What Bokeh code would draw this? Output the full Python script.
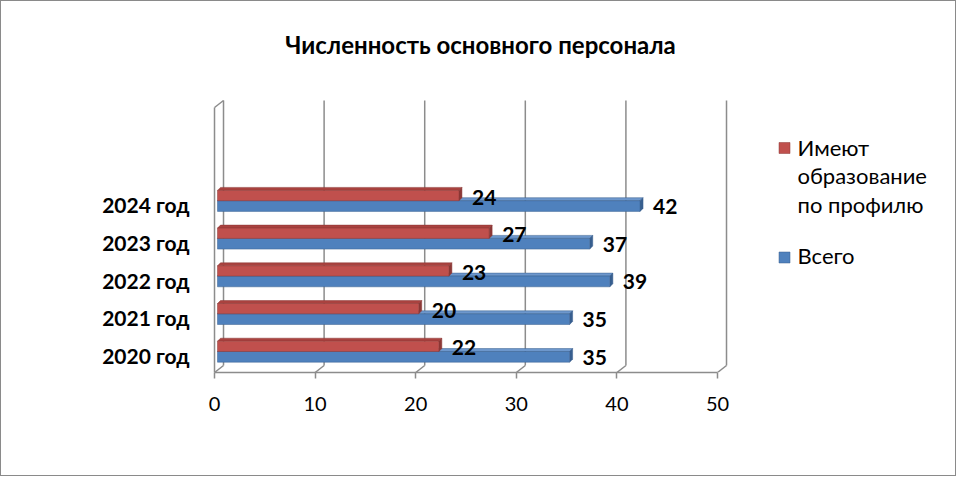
from bokeh.plotting import figure
from bokeh.models import FixedTicker, Range1d
from bokeh.core.properties import value
from bokeh.embed import file_html
from bokeh.resources import INLINE

# ---- data ----
categories = ["2020 год", "2021 год", "2022 год", "2023 год", "2024 год"]
profile = [22, 20, 23, 27, 24]        # Имеют образование по профилю
total = [35, 35, 39, 37, 42]          # Всего
x_ticks = [0, 10, 20, 30, 40, 50]
title_text = "Численность основного персонала"
legend_profile = [" Имеют", "образование", "по профилю"]
legend_total = "Всего"

RED = "#C0504D"
RED_TOP = "#A9423F"
RED_SIDE = "#8C3836"
BLUE = "#4F81BD"
BLUE_TOP = "#6D97CC"
BLUE_SIDE = "#385F8F"
GRID = "#8C8C8C"
FONT = value("Lato")

# pixel scale helpers (px per data unit)
PXX = 10.06
PXY = 37.7
XMAX = 50

p = figure(width=956, height=476, output_backend="svg", toolbar_location=None,
           x_range=Range1d(-0.2, -0.2 + 737 / PXX),
           y_range=Range1d(-17 / PXY, 344 / PXY))
p.styles = {"border": "1px solid #8A8A8A"}
p.min_border_left = 211
p.min_border_right = 8
p.min_border_top = 10
p.min_border_bottom = 105
p.outline_line_color = None
p.xgrid.visible = False
p.ygrid.visible = False
p.background_fill_color = "white"
p.border_fill_color = "white"

# title text, centred over the chart
p.text([266 / PXX], [311 / PXY], text=[title_text], text_font=FONT,
       text_font_size="24px", text_font_style="bold", text_color="black",
       text_align="center", text_baseline="middle")

# x axis = front edge of floor
xa = p.xaxis[0]
xa.ticker = FixedTicker(ticks=x_ticks)
xa.bounds = (0, XMAX)
xa.axis_line_color = GRID
xa.axis_line_width = 1.5
xa.major_tick_line_color = GRID
xa.major_tick_line_width = 1.5
xa.major_tick_out = 6
xa.major_tick_in = 0
xa.minor_tick_line_color = None
xa.major_label_standoff = 18
xa.major_label_text_font = "Lato"
xa.major_label_text_font_size = "20px"
xa.major_label_text_color = "black"

# y axis = category labels
ya = p.yaxis[0]
ya.ticker = FixedTicker(ticks=list(range(len(categories))))
ya.major_label_overrides = {i: c for i, c in enumerate(categories)}
ya.axis_line_color = None
ya.major_tick_line_color = None
ya.minor_tick_line_color = None
ya.major_label_standoff = 17
ya.major_label_text_font = "Lato"
ya.major_label_text_font_size = "21px"
ya.major_label_text_font_style = "bold"
ya.major_label_text_color = "black"

# ---- 3D walls ----
DX = 9 / PXX           # depth offset in x
DY = 7 / PXY           # depth offset in y
y_floor_front = -17 / PXY
y_floor_back = y_floor_front + DY
y_top_front = 248 / PXY
y_top_back = y_top_front + DY

xs, ys = [], []
for t in x_ticks:
    xs.append([t + DX, t + DX]); ys.append([y_floor_back, y_top_back])
    xs.append([t, t + DX]); ys.append([y_floor_front, y_floor_back])
xs.append([0, 0]); ys.append([y_floor_front, y_top_front])
xs.append([0, DX]); ys.append([y_top_front, y_top_back])
p.multi_line(xs, ys, line_color=GRID, line_width=1.5)

# ---- bars ----
XO = 3 / PXX
BDX = 3 / PXX
BDY = 3 / PXY
SPLIT = 4 / PXY
H_RED = 10.3 / PXY
H_BLUE = 10.7 / PXY


def faces(v, y0, y1):
    front = ([XO, v + XO, v + XO, XO], [y0, y0, y1, y1])
    top = ([XO, v + XO, v + XO + BDX, XO + BDX], [y1, y1, y1 + BDY, y1 + BDY])
    side = ([v + XO, v + XO + BDX, v + XO + BDX, v + XO], [y0, y0 + BDY, y1 + BDY, y1])
    return front, top, side


for series, kind, cols in (
        (total, "blue", (BLUE, BLUE_TOP, BLUE_SIDE)),
        (profile, "red", (RED, RED_TOP, RED_SIDE))):
    fx, fy, tx, ty, sx, sy = [], [], [], [], [], []
    for i, v in enumerate(series):
        s = i + SPLIT
        if kind == "blue":
            y0, y1 = s - H_BLUE, s
        else:
            y0, y1 = s, s + H_RED
        f, t, sd = faces(v, y0, y1)
        fx.append(f[0]); fy.append(f[1])
        tx.append(t[0]); ty.append(t[1])
        sx.append(sd[0]); sy.append(sd[1])
    p.patches(tx, ty, fill_color=cols[1], line_color=cols[2], line_width=0.5)
    p.patches(sx, sy, fill_color=cols[2], line_color=cols[2], line_width=0.5)
    p.patches(fx, fy, fill_color=cols[0], line_color=cols[2], line_width=0.5)

# data labels
LBL_GAP = XO + BDX + 10 / PXX
lab_x, lab_y, lab_t = [], [], []
for i, (a, b) in enumerate(zip(profile, total)):
    s = i + SPLIT
    lab_x.append(a + LBL_GAP); lab_y.append(s + H_RED / 2 - 1.5 / PXY); lab_t.append(str(a))
    lab_x.append(b + LBL_GAP); lab_y.append(s - H_BLUE / 2 - 0.5 / PXY); lab_t.append(str(b))
p.text(lab_x, lab_y, text=lab_t, text_font=FONT, text_font_size="21px",
       text_font_style="bold", text_color="black",
       text_align="left", text_baseline="middle")

# ---- legend (drawn manually) ----
LEG_SQ_X = 570 / PXX
LEG_TX = 583 / PXX
p.scatter([LEG_SQ_X, LEG_SQ_X], [207.5 / PXY, 98 / PXY], marker="square", size=11,
          fill_color=[RED, BLUE], line_color=[RED_SIDE, BLUE_SIDE], line_width=0.5)
leg_y = [208 / PXY, 180 / PXY, 151 / PXY]
p.text([LEG_TX] * 3, leg_y, text=legend_profile, text_font=FONT,
       text_font_size="22px", text_color="black", text_align="left",
       text_baseline="alphabetic")
p.text([LEG_TX], [100 / PXY], text=[legend_total], text_font=FONT,
       text_font_size="22px", text_color="black", text_align="left",
       text_baseline="alphabetic")

open("out.html", "w").write(file_html(p, INLINE))
